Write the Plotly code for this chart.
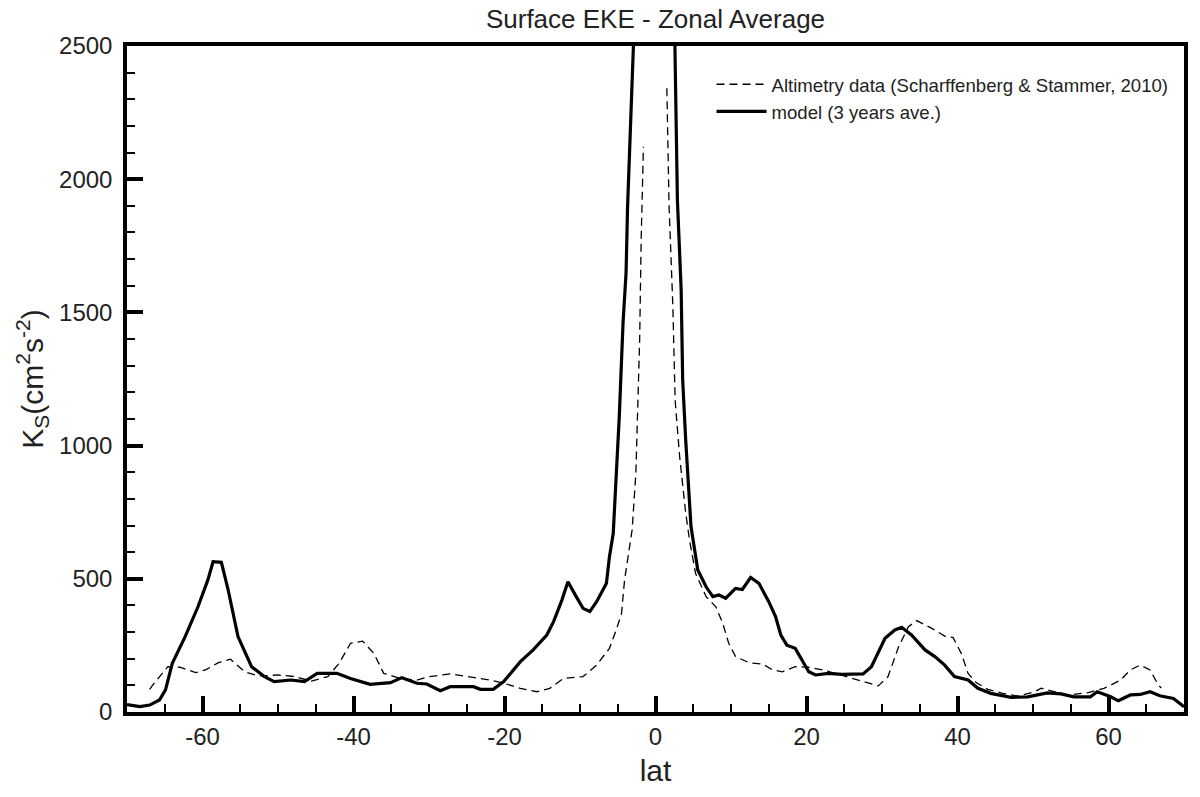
import plotly.graph_objects as go

# ---- data ----
lat_model = [-70, -69.6, -68.3, -67, -65.7, -64.9, -64, -62.3, -60.6, -59.3, -58.6, -57.5, -56.6,
             -55.3, -53.5, -51.8, -50.5, -48.3, -46.5, -44.8, -42.2, -40.4, -37.8, -35.1, -33.6,
             -31.6, -30.3, -28.5, -27.2, -24.1, -23.2, -21.5, -20.1, -17.9, -16.2, -14.4, -13.5,
             -12.4, -11.6, -10.5, -9.6, -8.7, -7.8, -6.5, -6.1, -5.6, -4.8, -4.3, -3.9, -3.7,
             -3.2, -3.0, -2, -1, 0, 1, 2, 2.5, 2.7, 2.9, 3.4, 3.6, 4.0, 4.7, 5.6, 6.7, 7.6, 8.4,
             9.3, 10.6, 11.5, 12.6, 13.7, 15.0, 15.9, 16.6, 17.4, 18.5, 19.4, 20.3, 21.2, 22.9,
             24.7, 27.5, 28.6, 30.4, 31.7, 32.6, 33.9, 35.7, 37.0, 38.3, 39.6, 41.4, 42.7, 44.4,
             47.1, 49.3, 51.9, 53.7, 55.4, 57.6, 58.5, 60.3, 61.3, 62.9, 64.2, 65.5, 66.8, 68.6,
             69.7, 70]
ks_model = [28, 26, 20, 26, 45, 83, 183, 283, 395, 495, 564, 562, 458,
            283, 170, 133, 114, 120, 114, 145, 145, 126, 104, 110, 129,
            108, 105, 80, 95, 95, 85, 85, 114, 189, 233, 289, 339,
            420, 489, 433, 389, 377, 414, 483, 583, 670, 1108, 1460, 1648, 1897,
            2360, 2600, 3500, 4000, 4200, 4000, 3500, 2600, 2272, 1922, 1584, 1246, 1021, 696, 533, 470, 433, 439,
            427, 464, 460, 505, 483, 414, 358, 289, 251, 239, 195, 151, 139, 145,
            141, 143, 170, 277, 308, 318, 289, 233, 208, 176, 133, 120, 89, 70,
            55, 57, 72, 68, 57, 57, 76, 57, 42, 64, 66, 76, 61, 51,
            26, 20]

lat_alt = [-67, -66.6, -64.6, -63, -60.9, -59.6, -57.9, -56.3, -54.4, -52.6, -50, -47.8, -45.6,
           -43.4, -41.9, -40.4, -38.8, -37.3, -36, -33.8, -31.6, -29.9, -27.2, -24.6, -21.9,
           -20.1, -17.9, -15.7, -14, -12.2, -9.6, -7.8, -6.1, -5.2, -4.5, -4.1, -3.4, -3.1,
           -2.6, -2.4, -2.1, -1.9, -1.6, 0, 1.5, 1.8, 2.3, 2.6, 3.2, 4.0, 4.5, 5.3, 6.7, 8.0,
           8.9, 9.7, 10.6, 12.4, 14.2, 15.5, 16.8, 18.5, 20.3, 22.1, 23.8, 26.0, 28.2, 29.5,
           30.8, 32.2, 33.5, 34.6, 36.6, 38.3, 39.4, 40.5, 41.4, 42.5, 44, 46, 48, 50.2, 51.1,
           52.5, 54.6, 57.2, 59.4, 60.3, 61.6, 62.9, 64.2, 65.5, 66.6, 67]
ks_alt = [85, 101, 170, 168, 148, 158, 185, 198, 151, 135, 139, 133, 116,
          133, 183, 258, 266, 220, 145, 126, 120, 133, 143, 133, 120,
          108, 89, 76, 89, 126, 133, 176, 239, 308, 370, 495, 620, 683,
          896, 1084, 1396, 1772, 2122, None, 2341, 1897, 1521, 1171, 958, 747, 646, 521, 433, 395,
          333, 258, 208, 185, 180, 158, 151, 170, 168, 158, 145, 126, 108, 98,
          133, 245, 320, 343, 314, 285, 280, 220, 145, 110, 85, 70, 60, 76, 89,
          80, 64, 72, 89, 101, 120, 158, 176, 158, 101, 90]

x_tickvals = [-60, -40, -20, 0, 20, 40, 60]
x_ticktext = ["-60", "-40", "-20", "0", "20", "40", "60"]
y_tickvals = [0, 500, 1000, 1500, 2000, 2500]
y_ticktext = ["0", "500", "1000", "1500", "2000", "2500"]

FONT = "Liberation Sans, Arial, Helvetica, sans-serif"

fig = go.Figure()
fig.add_trace(go.Scatter(
    x=lat_alt, y=ks_alt, mode="lines", connectgaps=False,
    name="Altimetry data (Scharffenberg & Stammer, 2010)",
    line=dict(color="black", width=1.3, dash="8px,5px"),
))
fig.add_trace(go.Scatter(
    x=lat_model, y=ks_model, mode="lines",
    name="model (3 years ave.)",
    line=dict(color="black", width=3.2),
))

axis_common = dict(
    showline=True, linecolor="black", linewidth=3.5, mirror=True,
    showgrid=False, zeroline=False,
    ticks="inside", tickcolor="black", ticklen=16, tickwidth=4,
    tickfont=dict(family=FONT, size=24, color="#222"),
)

fig.update_xaxes(
    range=[-70, 70], tickmode="array", tickvals=x_tickvals, ticktext=x_ticktext,
    minor=dict(ticks="inside", dtick=5, tick0=0, ticklen=8, tickwidth=1.5, tickcolor="black"),
    title=dict(text="lat", font=dict(family=FONT, size=30, color="#222"), standoff=12),
    **axis_common,
)
fig.update_yaxes(
    range=[0, 2500], tickmode="array", tickvals=y_tickvals, ticktext=y_ticktext,
    minor=dict(ticks="inside", dtick=100, tick0=0, ticklen=8, tickwidth=1.5, tickcolor="black"),
    ticklabelstandoff=6,
    title=dict(text="K<sub>S</sub>(cm<sup>2</sup>s<sup>-2</sup>)",
               font=dict(family=FONT, size=30, color="#222"), standoff=8),
    **axis_common,
)

fig.update_layout(
    width=1200, height=797,
    margin=dict(l=127, r=12, t=46, b=85),
    paper_bgcolor="white", plot_bgcolor="white",
    title=dict(text="Surface EKE - Zonal Average", x=0.5, xref="paper", xanchor="center",
               y=0.976, yref="container", yanchor="middle",
               font=dict(family=FONT, size=26, color="#222")),
    showlegend=True,
    legend=dict(x=0.553, y=0.9705, xanchor="left", yanchor="top",
                bgcolor="rgba(0,0,0,0)", borderwidth=0,
                font=dict(family=FONT, size=18.6, color="#222"),
                itemwidth=50, tracegroupgap=0),
)

fig.write_html("out.html")
